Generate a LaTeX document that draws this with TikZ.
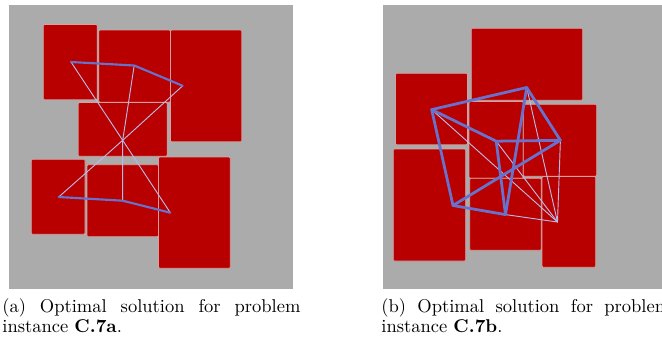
\documentclass[tikz,border=0pt]{standalone}
\usepackage{xcolor}
\definecolor{panelgray}{RGB}{171,171,171}
\definecolor{boxred}{RGB}{184,0,0}
\definecolor{boxedge}{RGB}{214,160,160}
\definecolor{thickblue}{RGB}{104,114,204}
\definecolor{thinblue}{RGB}{186,186,232}
\begin{document}
\begin{tikzpicture}[x=0.54pt,y=-0.54pt,
  panel/.style={fill=panelgray,draw=none},
  box/.style={fill=boxred,draw=boxedge,line width=0.35pt,rounded corners=0.6pt},
  thickA/.style={draw=thickblue,line width=1.15pt,line cap=round,line join=round},
  thickB/.style={draw=thickblue,line width=1.5pt,line cap=round,line join=round},
  thinedge/.style={draw=thinblue,line width=0.5pt,line cap=round},
  captext/.style={anchor=base west,inner sep=0pt}]
\useasboundingbox (0,0) rectangle (662,341);
\fill[white] (0,0) rectangle (662,341);
% ---------- panel (a)
\path[panel] (9,4.5) rectangle (292.7,289.3);
\path[box] (43.3,24.5) rectangle (97.2,99.8);
\path[box] (98.8,30) rectangle (170.5,102.2);
\path[box] (170.5,30) rectangle (241.8,141.8);
\path[box] (78.2,102.5) rectangle (167.2,156.3);
\path[box] (31.3,159.3) rectangle (85,234.3);
\path[box] (87,164.7) rectangle (158.5,236.7);
\path[box] (158.5,157) rectangle (230.3,268.3);
\coordinate (A) at (71,62);
\coordinate (B) at (134.2,65.5);
\coordinate (C) at (182.7,85.8);
\coordinate (D) at (122.7,140.3);
\coordinate (E) at (58.7,197);
\coordinate (F) at (122.7,200.7);
\coordinate (G) at (170.3,212.7);
\draw[thinedge] (A) -- (D) -- (G);
\draw[thinedge] (C) -- (D) -- (E);
\draw[thinedge] (B) -- (D) -- (F);
\draw[thickA] (A) -- (B) -- (C);
\draw[thickA] (E) -- (F) -- (G);
% ---------- panel (b)
\path[panel] (382.7,4.5) rectangle (670,289.3);
\path[box] (471.3,28.3) rectangle (582.7,100.3);
\path[box] (395.5,73.3) rectangle (467.5,144.8);
\path[box] (469,101.5) rectangle (523.3,178.3);
\path[box] (523.3,104.3) rectangle (596.7,176.3);
\path[box] (393.3,149) rectangle (465.7,261);
\path[box] (469.7,178.3) rectangle (541.3,250.3);
\path[box] (542,176.5) rectangle (595.7,267.3);
\coordinate (P1) at (431.7,109.6);
\coordinate (P2) at (526.7,87.5);
\coordinate (P3) at (560.4,140.3);
\coordinate (P4) at (496.2,141.2);
\coordinate (P5) at (453,205.5);
\coordinate (P6) at (505.5,214.6);
\coordinate (P7) at (557.5,222);
\draw[thinedge] (P1) -- (P7);
\draw[thinedge] (P4) -- (P7);
\draw[thinedge] (P2) -- (P7);
\draw[thinedge] (P3) -- (P7);
\draw[thinedge] (P6) -- (P7);
\draw[thickB] (P1) -- (P2) -- (P3) -- (P4) -- cycle;
\draw[thickB] (P1) -- (P5) -- (P6) -- (P2);
\draw[thickB] (P5) -- (P3);
\draw[thickB] (P4) -- (P6);
% ---------- captions
\node[captext] (capa1) at (2,312.5) {\makebox[161pt][s]{(a) Optimal solution for problem}};
\node[captext] (capa2) at (2,332.5) {instance \textbf{C.7a}.};
\node[captext] (capb1) at (381,312.5) {\makebox[156pt][s]{(b) Optimal solution for problem}};
\node[captext] (capb2) at (381,332.5) {instance \textbf{C.7b}.};
\end{tikzpicture}
\end{document}
